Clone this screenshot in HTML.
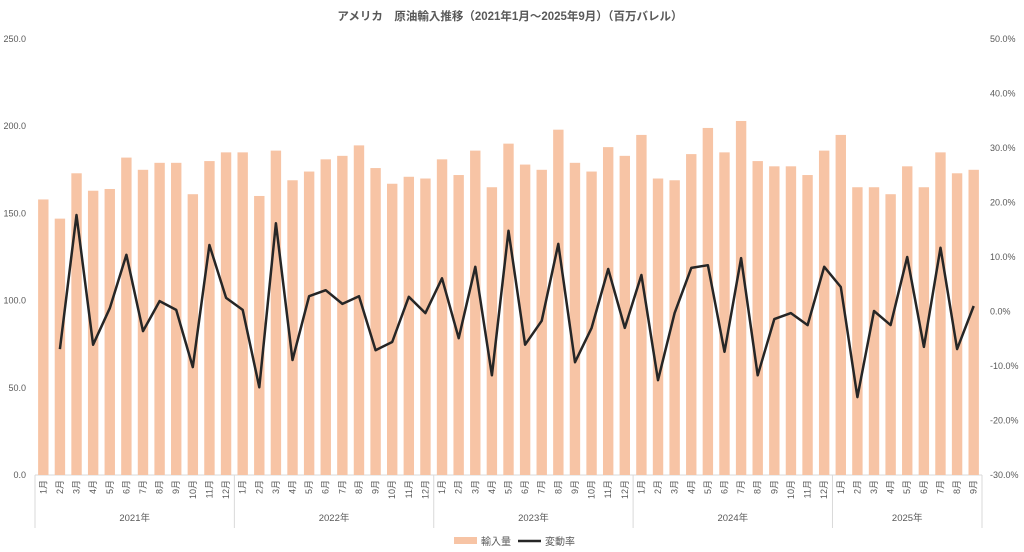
<!DOCTYPE html>
<html><head><meta charset="utf-8"><style>
body{margin:0;background:#fff;}
svg{display:block;font-family:"Liberation Sans","Noto Sans CJK JP",sans-serif;}
</style></head><body>
<svg id="chart" width="1024" height="552">
<text x="510" y="20" text-anchor="middle" font-size="11.5" font-weight="bold" fill="#595959">アメリカ　原油輸入推移（2021年1月～2025年9月）（百万バレル）</text>
<g id="axes"></g><g id="bars"></g><g id="line"></g>
<g>
<rect x="454" y="537" width="23" height="7" fill="#F7C4A5"/>
<text x="481" y="545" font-size="10" fill="#595959">輸入量</text>
<line x1="518" y1="541" x2="541" y2="541" stroke="#262626" stroke-width="2.5"/>
<text x="545" y="545" font-size="10" fill="#595959">変動率</text>
</g>
</svg>
<script>
const years=["2021年","2022年","2023年","2024年","2025年"];
const imports=[158,147,173,163,164,182,175,179,179,161,180,185,
185,160,186,169,174,181,183,189,176,167,171,170,
181,172,186,165,190,178,175,198,179,174,188,183,
195,170,169,184,199,185,203,180,177,177,172,186,
195,165,165,161,177,165,185,173,175];
const changes=[null,-6.9,17.7,-6.1,0.6,10.4,-3.6,1.9,0.3,-10.2,12.2,2.5,
0.3,-13.9,16.2,-8.9,2.8,3.9,1.4,2.8,-7.1,-5.6,2.7,-0.3,
6.1,-4.9,8.2,-11.7,14.8,-6.1,-1.7,12.4,-9.3,-3.0,7.8,-3.0,
6.7,-12.6,-0.3,8.0,8.5,-7.4,9.8,-11.7,-1.4,-0.3,-2.5,8.2,
4.5,-15.7,0.1,-2.5,10.0,-6.5,11.7,-6.9,1.0];
const leftTicks=[0,50,100,150,200,250];
const rightTicks=[-30,-20,-10,0,10,20,30,40,50];
const NS="http://www.w3.org/2000/svg";
const X0=35,X1=982,Y0=475,Y1=39,n=imports.length,slot=(X1-X0)/n;
const yL=v=>Y0-(v/250)*(Y0-Y1);
const yR=v=>Y0-((v+30)/80)*(Y0-Y1);
const xC=i=>X0+slot*(i+0.5);
function mk(tag,attrs,parent){const e=document.createElementNS(NS,tag);for(const k in attrs)e.setAttribute(k,attrs[k]);parent.appendChild(e);return e;}
const axes=document.getElementById('axes'),bars=document.getElementById('bars'),line=document.getElementById('line');
leftTicks.forEach(t=>{const e=mk('text',{x:26,y:yL(t)+3,'text-anchor':'end','font-size':9,fill:'#595959'},axes);e.textContent=t.toFixed(1);

});
rightTicks.forEach(t=>{const e=mk('text',{x:990,y:yR(t)+3,'font-size':9,fill:'#595959'},axes);e.textContent=t.toFixed(1)+'%';

});
const ax=mk('line',{x1:X0,y1:Y0,x2:X1,y2:Y0,stroke:'#d9d9d9'},axes);


for(let y=0;y<=years.length;y++){const xi=Math.min(y*12,n);const x=X0+slot*xi;
const v=mk('line',{x1:x,y1:Y0,x2:x,y2:528,stroke:'#d9d9d9'},axes);


if(y<years.length){const end=Math.min(y*12+12,n);const t=mk('text',{x:(X0+slot*xi+X0+slot*end)/2,y:521,'text-anchor':'middle','font-size':9.5,fill:'#595959'},axes);t.textContent=years[y];

}}
imports.forEach((v,i)=>{const r=mk('rect',{x:xC(i)-5.2,y:yL(v),width:10.4,height:Y0-yL(v),fill:'#F7C4A5'},bars);


const m=(i%12)+1;const t=mk('text',{x:0,y:0,'font-size':9,fill:'#595959','text-anchor':'end',transform:`translate(${xC(i)+3},480) rotate(-90)`},axes);t.textContent=m+'月';

});
let d='';changes.forEach((v,i)=>{if(v===null)return;d+=(d?'L':'M')+xC(i).toFixed(1)+','+yR(v).toFixed(1);});
const p=mk('path',{d:d,fill:'none',stroke:'#262626','stroke-width':2.5,'stroke-linejoin':'round'},line);


</script>
</body></html>
